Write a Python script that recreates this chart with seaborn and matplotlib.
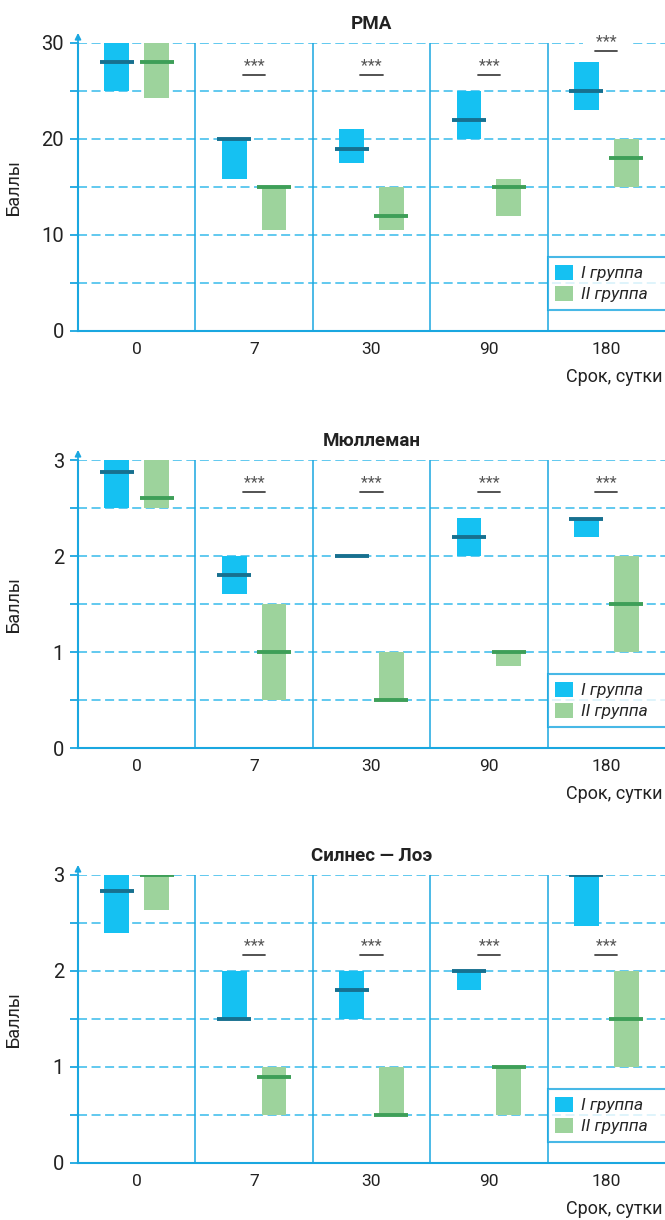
import numpy as np
import pandas as pd
import matplotlib
matplotlib.use("Agg")
import matplotlib.pyplot as plt
from matplotlib.patches import Patch
import seaborn as sns

# ── 1. Data ──────────────────────────────────────────────
TERMS     = ["0", "7", "30", "90", "180"]
GROUPS    = ["I группа", "II группа"]
SIG_TERMS = ["7", "30", "90", "180"]

# РМА: interval low/high and median per term
rma_g1_low  = [25, 15.8, 17.5, 20, 23]
rma_g1_high = [30, 20, 21, 25, 28]
rma_g1_med  = [28, 20, 19, 22, 25]
rma_g2_low  = [24.3, 10.5, 10.5, 12, 15]
rma_g2_high = [30, 15, 15, 15.8, 20]
rma_g2_med  = [28, 15, 12, 15, 18]

# Мюллеман
mul_g1_low  = [2.5, 1.6, 2.0, 2.0, 2.2]
mul_g1_high = [3.0, 2.0, 2.0, 2.4, 2.4]
mul_g1_med  = [2.88, 1.8, 2.0, 2.2, 2.39]
mul_g2_low  = [2.5, 0.5, 0.5, 0.85, 1.0]
mul_g2_high = [3.0, 1.5, 1.0, 1.0, 2.0]
mul_g2_med  = [2.6, 1.0, 0.5, 1.0, 1.5]

# Силнес — Лоэ
sl_g1_low  = [2.4, 1.5, 1.5, 1.8, 2.47]
sl_g1_high = [3.0, 2.0, 2.0, 2.0, 3.0]
sl_g1_med  = [2.83, 1.5, 1.8, 2.0, 3.0]
sl_g2_low  = [2.64, 0.5, 0.5, 0.5, 1.0]
sl_g2_high = [3.0, 1.0, 1.0, 1.0, 2.0]
sl_g2_med  = [3.0, 0.9, 0.5, 1.0, 1.5]

# ── 2. Style ─────────────────────────────────────────────
BAR_COLORS = ["#15C1F2", "#9DD39C"]
MED_COLORS = ["#17708F", "#3E9F58"]
AXIS_BLUE  = "#1AA7E0"
GRID_BLUE  = "#55C5EE"
TEXT_COL   = "#222222"

sns.set_theme(style="white")
plt.rcParams["font.family"] = ["Roboto", "DejaVu Sans"]

PANELS = [
    dict(title="РМА", ymax=30, step=5, label_step=10,
         g1=(rma_g1_low, rma_g1_high, rma_g1_med),
         g2=(rma_g2_low, rma_g2_high, rma_g2_med),
         sig=[26.7, 26.7, 26.7, 29.2], bottom_px=331),
    dict(title="Мюллеман", ymax=3, step=0.5, label_step=1,
         g1=(mul_g1_low, mul_g1_high, mul_g1_med),
         g2=(mul_g2_low, mul_g2_high, mul_g2_med),
         sig=[2.67, 2.67, 2.67, 2.67], bottom_px=748),
    dict(title="Силнес — Лоэ", ymax=3, step=0.5, label_step=1,
         g1=(sl_g1_low, sl_g1_high, sl_g1_med),
         g2=(sl_g2_low, sl_g2_high, sl_g2_med),
         sig=[2.17, 2.17, 2.17, 2.17], bottom_px=1163),
]


def make_df(g1, g2):
    rows = []
    for grp, (low, high, med) in zip(GROUPS, (g1, g2)):
        for t, lo, hi, me in zip(TERMS, low, high, med):
            rows.append(dict(term=t, group=grp, low=lo, high=hi, med=me))
    df = pd.DataFrame(rows)
    df["span"] = df["high"] - df["low"]
    return df


# ── 3. Figure ────────────────────────────────────────────
W, H = 665, 1220
AX_LEFT, AX_H = 78, 288
fig = plt.figure(figsize=(W / 100, H / 100), dpi=100)

for cfg in PANELS:
    ax = fig.add_axes([AX_LEFT / W, (H - cfg["bottom_px"]) / H,
                       (W - AX_LEFT) / W, AX_H / H])
    df = make_df(cfg["g1"], cfg["g2"])

    # floating bars: height = span, then lift each bar to its low value
    sns.barplot(data=df, x="term", y="span", hue="group", order=TERMS,
                hue_order=GROUPS, palette=BAR_COLORS, width=0.68, gap=0.38,
                errorbar=None, legend=False, linewidth=0, saturation=1,
                ax=ax, zorder=3)
    for bar, lo in zip(ax.patches, df["low"]):
        bar.set_y(lo)

    # median marks
    sns.pointplot(data=df, x="term", y="med", hue="group", order=TERMS,
                  hue_order=GROUPS, palette=MED_COLORS, dodge=0.34,
                  marker="_", linestyle="none", markersize=24,
                  markeredgewidth=2.8, errorbar=None, legend=False,
                  ax=ax, zorder=4)

    ymax, step = cfg["ymax"], cfg["step"]
    ax.set_xlim(-0.5, len(TERMS) - 0.5)
    ax.set_ylim(0, ymax)

    ticks = np.arange(0, ymax + step / 2, step)
    ax.set_yticks(ticks)
    ax.set_yticklabels([f"{t:g}" if np.isclose(t % cfg["label_step"], 0) else ""
                        for t in ticks])
    ax.grid(axis="y", color=GRID_BLUE, linestyle=(0, (5, 2.5)), lw=1.3, zorder=1)
    ax.grid(axis="x", visible=False)
    for xs in np.arange(0.5, len(TERMS) - 0.5):
        ax.axvline(xs, color=AXIS_BLUE, lw=1.1, zorder=1)

    ax.tick_params(axis="y", length=6, width=1.3, color=AXIS_BLUE, pad=4,
                   labelsize=14.5, labelcolor=TEXT_COL, direction="out", left=True)
    ax.tick_params(axis="x", length=0, pad=8, labelsize=12.5, labelcolor=TEXT_COL)

    for side in ("top", "right"):
        ax.spines[side].set_visible(False)
    for side in ("left", "bottom"):
        ax.spines[side].set_color(AXIS_BLUE)
        ax.spines[side].set_linewidth(1.5)
    ax.annotate("", xy=(0, 1.035), xytext=(0, 0.99), xycoords="axes fraction",
                arrowprops=dict(arrowstyle="-|>", color=AXIS_BLUE, lw=1.2,
                                mutation_scale=9, shrinkA=0, shrinkB=0))

    # significance marks
    for t, yline in zip(SIG_TERMS, cfg["sig"]):
        xi = TERMS.index(t)
        ax.plot([xi - 0.095, xi + 0.095], [yline, yline], color="#444444",
                lw=1.3, zorder=6, clip_on=False)
        ax.annotate("   ***   ", xy=(xi, yline), xytext=(0, 2.5),
                    textcoords="offset points", ha="center", va="baseline",
                    fontsize=11.5, color="#555555", zorder=5,
                    bbox=dict(facecolor="white", edgecolor="none", pad=0.5))

    ax.set_title(cfg["title"], fontsize=13.5, fontweight="bold", pad=10, color=TEXT_COL)
    ax.set_ylabel("Баллы", fontsize=13, color=TEXT_COL)
    ax.yaxis.set_label_coords(-0.094, 0.5)
    ax.set_xlabel("Срок, сутки", fontsize=13, color=TEXT_COL, ha="right")
    ax.xaxis.set_label_coords(0.995, -37 / AX_H)

    handles = [Patch(facecolor=c, edgecolor="none") for c in BAR_COLORS]
    leg = ax.legend(handles, GROUPS, loc="lower left",
                    bbox_to_anchor=(0.8, 0.072, 0.25, 0.19), mode="expand",
                    borderaxespad=0, frameon=True, fancybox=False,
                    prop=dict(style="italic", size=12.5),
                    handlelength=1.0, handleheight=1.0, handletextpad=0.5,
                    labelspacing=0.25, borderpad=0.45)
    leg.get_frame().set_edgecolor(AXIS_BLUE)
    leg.get_frame().set_linewidth(1.5)
    leg.set_zorder(7)

fig.savefig("out.png", dpi=100)
